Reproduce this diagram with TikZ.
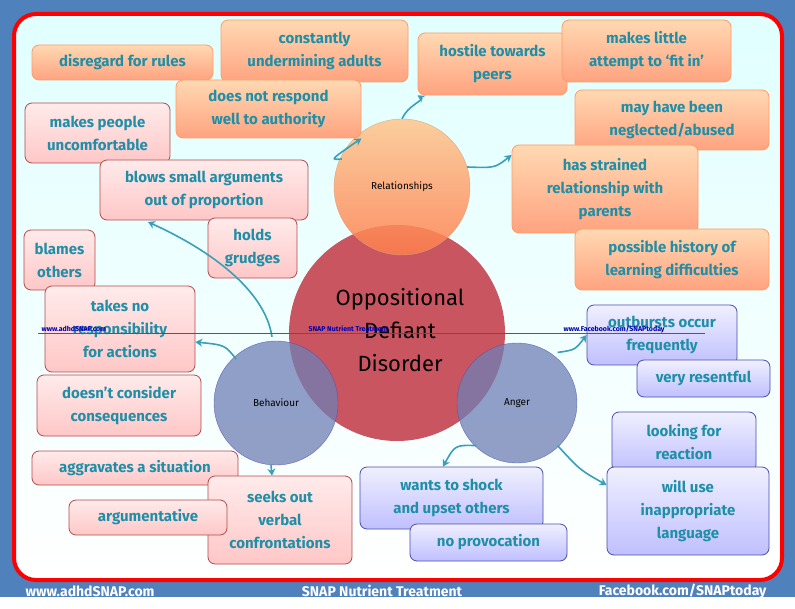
\documentclass[tikz,border=0pt]{standalone}
\usepackage{fontspec}
\setmainfont{Fira Sans}
\usetikzlibrary{arrows.meta}
\definecolor{bgblue}{HTML}{4F81BD}
\definecolor{txt}{HTML}{1F8FA8}
\definecolor{arr}{HTML}{3A9FB8}
\definecolor{odd}{HTML}{C95560}
\definecolor{circb}{HTML}{6F7FB5}
\begin{document}
\begin{tikzpicture}[x=1pt,y=-1pt,
 bx/.style={draw, rounded corners=7pt, line width=0.8pt, font=\fontsize{15}{23}\selectfont\bfseries, text=txt, align=center, inner sep=0pt},
 rel/.style={bx, draw=orange!70!red!60, top color=orange!30!white, bottom color=orange!55!red!50!white},
 beh/.style={bx, draw=red!40!gray, top color=red!8!white, bottom color=red!22!white},
 ang/.style={bx, draw=blue!40!gray, top color=blue!6!white, bottom color=blue!25!white},
 ar/.style={arr, line width=1.6pt, -{Stealth[length=7pt,width=8pt]}},
 ft/.style={text=white, font=\fontsize{14}{16}\selectfont\bfseries},
 wm/.style={text=blue!70!black, font=\fontsize{7}{8}\selectfont\bfseries, anchor=west}]
\useasboundingbox (0,0) rectangle (795,609);
\fill[white] (0,0) rectangle (795,609);
\fill[bgblue] (0,0) rectangle (795,597);
\draw[red, line width=4pt, rounded corners=22pt, top color=cyan!12!white, bottom color=white, middle color=cyan!6!white] (14,14) rectangle (782,580);
% circles
\fill[odd] (397,333) circle (108);
\node[draw=orange!60!black!50, top color=orange!45!white, bottom color=red!45!orange!70!white, circle, minimum size=136pt, opacity=.85] (rel) at (402,187) {};
\node[font=\fontsize{10}{12}\selectfont] at (rel) {Relationships};
\node[draw=blue!40!gray, fill=circb, circle, minimum size=124pt, opacity=.75] (beh) at (276,403) {};
\node[font=\fontsize{10}{12}\selectfont] at (beh) {Behaviour};
\node[draw=blue!40!gray, fill=circb, circle, minimum size=120pt, opacity=.75] (ang) at (517,403) {};
\node[font=\fontsize{10}{12}\selectfont] at (ang) {Anger};
\node[align=center, font=\fontsize{22}{33}\selectfont] (odd) at (400,330) {Oppositional\\Defiant\\Disorder};
% relationship boxes
\node[rel, minimum width=181pt, minimum height=35pt] (r1) at (122.5,62.5) {disregard for rules};
\node[rel, minimum width=187pt, minimum height=62pt] (r2) at (314.5,51) {constantly\\undermining adults};
\node[rel, minimum width=185pt, minimum height=58pt] (r3) at (268.5,109) {does not respond\\well to authority};
\node[rel, minimum width=149pt, minimum height=62pt] (r4) at (492.5,64) {hostile towards\\peers};
\node[rel, minimum width=169pt, minimum height=62pt] (r5) at (646.5,51) {makes little\\attempt to ‘fit in’};
\node[rel, minimum width=194pt, minimum height=60pt] (r6) at (672,120) {may have been\\neglected/abused};
\node[rel, minimum width=186pt, minimum height=88pt] (r7) at (605,189) {has strained\\relationship with\\parents};
\node[rel, minimum width=194pt, minimum height=61pt] (r8) at (672,259.5) {possible history of\\learning difficulties};
% behaviour boxes
\node[beh, minimum width=145pt, minimum height=60pt] (b1) at (97.5,133) {makes people\\uncomfortable};
\node[beh, minimum width=208pt, minimum height=60pt] (b2) at (204,190) {blows small arguments\\out of proportion};
\node[beh, minimum width=89pt, minimum height=60pt] (b3) at (252.5,248) {holds\\grudges};
\node[beh, minimum width=71pt, minimum height=60pt] (b4) at (59.5,260) {blames\\others};
\node[beh, minimum width=150pt, minimum height=86pt] (b5) at (120,329) {takes no\\responsibility\\for actions};
\node[beh, minimum width=164pt, minimum height=61pt] (b6) at (119,405.5) {doesn’t consider\\consequences};
\node[beh, minimum width=206pt, minimum height=34pt] (b7) at (135,468) {aggravates a situation};
\node[beh, minimum width=144pt, minimum height=88pt] (b8) at (280,520) {seeks out\\verbal\\confrontations};
\node[beh, minimum width=158pt, minimum height=35pt] (b9) at (148,517.5) {argumentative};
% anger boxes
\node[ang, minimum width=150pt, minimum height=60pt] (a1) at (662,335) {outbursts occur\\frequently};
\node[ang, minimum width=133pt, minimum height=37pt] (a2) at (703.5,378.5) {very resentful};
\node[ang, minimum width=144pt, minimum height=60pt] (a3) at (684,442) {looking for\\reaction};
\node[ang, minimum width=162pt, minimum height=88pt] (a4) at (688,511) {will use\\inappropriate\\language};
\node[ang, minimum width=183pt, minimum height=62pt] (a5) at (451.5,498) {wants to shock\\and upset others};
\node[ang, minimum width=157pt, minimum height=37pt] (a6) at (488.5,542.5) {no provocation};
% arrows
\draw[ar] (rel.north) .. controls (408,105) and (425,100) .. (r4.south west|-r4.south) ;
\draw[ar] (rel.west) ++(8,-28) coordinate (c1) (c1) .. controls (330,160) .. (r3.south east);
\draw[ar] (rel.east) ++(-3,-20) coordinate (c2) (c2) .. controls (495,168) .. (r7.west|-0,155);
\draw[ar] (beh.north) ++(-4,-4) coordinate (c3) (c3) .. controls (265,290) and (210,250) .. (148,222);
\draw[ar] (beh.north west) ++(4,0) coordinate (c4) (c4) .. controls (225,345) .. (b5.east|-0,342);
\draw[ar] (beh.south) ++(-5,0) coordinate (c5) (c5) -- (b8.north-|272,0);
\draw[ar] (ang.north east) ++(-2,-8) coordinate (c6) (c6) .. controls (575,350) .. (a1.west|-0,335);
\draw[ar] (ang.south west) ++(2,0) coordinate (c7) (c7) .. controls (455,445) .. (a5.north-|443,0);
\draw[ar] (ang.south east) ++(-2,0) coordinate (c8) (c8) .. controls (580,470) .. (a4.west|-0,485);
% watermark
\draw[blue!60!cyan, line width=0.5pt] (38,333) -- (705,333);
\node[wm] at (38,329) {www.adhdSNAP.com};
\node[wm] at (305,329) {SNAP Nutrient Treatment};
\node[wm] at (560,329) {www.Facebook.com/SNAPtoday};
% footer
\node[ft, anchor=west] at (22,591) {www.adhdSNAP.com};
\node[ft] at (382,591) {SNAP Nutrient Treatment};
\node[ft, anchor=east] at (770,591) {Facebook.com/SNAPtoday};
\end{tikzpicture}
\end{document}
